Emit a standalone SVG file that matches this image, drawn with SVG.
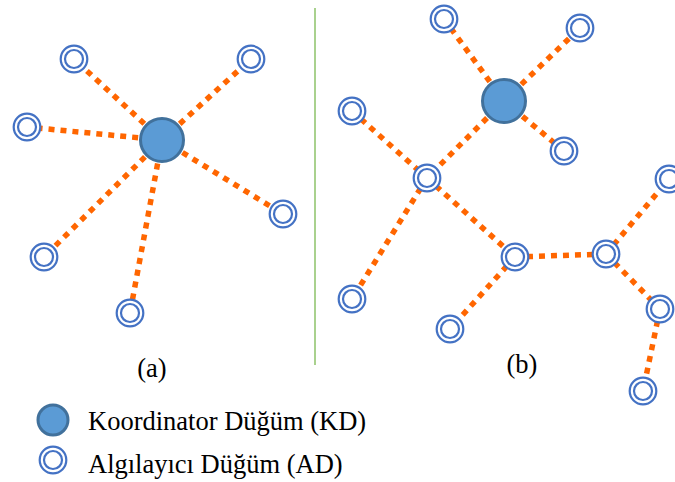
<svg xmlns="http://www.w3.org/2000/svg" width="675" height="482" viewBox="0 0 675 482">
<style>
.e{stroke:#FF6600;stroke-width:5.5;stroke-dasharray:6 6;fill:none}
.kd{fill:#5B9BD5;stroke:#41719C;stroke-width:3}
.ad{fill:#fff;stroke:#4472C4;stroke-width:2.2}
.adi{fill:none;stroke:#4472C4;stroke-width:2.2}
.t{font-family:"Liberation Serif","Times New Roman",serif;font-size:26.5px;fill:#000}
</style>
<defs>
<g id="adn"><circle class="ad" r="13.3"/><circle class="adi" r="9"/></g>
</defs>
<line x1="315" y1="8" x2="315" y2="365" stroke="#A9D18E" stroke-width="2"/>
<g id="connectors">
<line class="e" x1="162" y1="140" x2="74" y2="59"/>
<line class="e" x1="162" y1="140" x2="251" y2="59"/>
<line class="e" x1="162" y1="140" x2="27" y2="127"/>
<line class="e" x1="162" y1="140" x2="283" y2="214"/>
<line class="e" x1="162" y1="140" x2="44" y2="257"/>
<line class="e" x1="162" y1="140" x2="130" y2="313"/>
<line class="e" x1="504" y1="101" x2="444" y2="19"/>
<line class="e" x1="504" y1="101" x2="580" y2="28"/>
<line class="e" x1="504" y1="101" x2="564" y2="151"/>
<line class="e" x1="504" y1="101" x2="427" y2="178"/>
<line class="e" x1="352" y1="111" x2="427" y2="178"/>
<line class="e" x1="427" y1="178" x2="352" y2="299"/>
<line class="e" x1="427" y1="178" x2="515" y2="257"/>
<line class="e" x1="515" y1="257" x2="450" y2="329"/>
<line class="e" x1="515" y1="257" x2="606" y2="254"/>
<line class="e" x1="606" y1="254" x2="669" y2="179"/>
<line class="e" x1="606" y1="254" x2="660" y2="309"/>
<line class="e" x1="660" y1="309" x2="643" y2="391"/>
</g>
<g id="a_kd"><circle class="kd" cx="162" cy="140" r="21.5"/></g>
<g id="a_n1"><use href="#adn" x="74" y="59"/></g>
<g id="a_n2"><use href="#adn" x="251" y="59"/></g>
<g id="a_n3"><use href="#adn" x="27" y="127"/></g>
<g id="a_n4"><use href="#adn" x="283" y="214"/></g>
<g id="a_n5"><use href="#adn" x="44" y="257"/></g>
<g id="a_n6"><use href="#adn" x="130" y="313"/></g>
<g id="b_kd"><circle class="kd" cx="504" cy="101" r="21.5"/></g>
<g id="b_n1"><use href="#adn" x="444" y="19"/></g>
<g id="b_n2"><use href="#adn" x="580" y="28"/></g>
<g id="b_n3"><use href="#adn" x="564" y="151"/></g>
<g id="b_n4"><use href="#adn" x="352" y="111"/></g>
<g id="b_n5"><use href="#adn" x="427" y="178"/></g>
<g id="b_n6"><use href="#adn" x="669" y="179"/></g>
<g id="b_n7"><use href="#adn" x="515" y="257"/></g>
<g id="b_n8"><use href="#adn" x="606" y="254"/></g>
<g id="b_n9"><use href="#adn" x="352" y="299"/></g>
<g id="b_n10"><use href="#adn" x="450" y="329"/></g>
<g id="b_n11"><use href="#adn" x="660" y="309"/></g>
<g id="b_n12"><use href="#adn" x="643" y="391"/></g>
<text class="t" x="152" y="377" text-anchor="middle">(a)</text>
<text class="t" x="522" y="373" text-anchor="middle">(b)</text>
<g id="legend_kd"><circle class="kd" cx="53" cy="420" r="15"/><text class="t" x="88" y="430">Koordinator Düğüm (KD)</text></g>
<g id="legend_ad"><use href="#adn" x="53" y="460"/><text class="t" x="88" y="473">Algılayıcı Düğüm (AD)</text></g>
</svg>
